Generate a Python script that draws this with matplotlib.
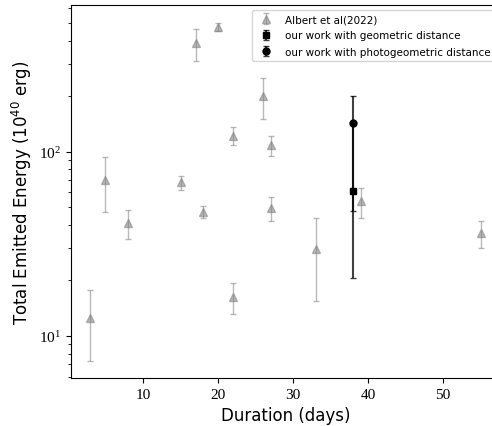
import matplotlib
matplotlib.use("Agg")
import matplotlib.pyplot as plt

plt.rcParams['font.family'] = 'serif'
plt.rcParams['font.serif'] = ['Liberation Serif', 'DejaVu Serif']
plt.rcParams['mathtext.fontset'] = 'stix'

# Albert et al (2022)
albert_dur = [3, 5, 8, 15, 17, 18, 20, 22, 22, 26, 27, 27, 33, 39, 55]
albert_E = [12.5, 70, 41, 68, 388, 47, 477, 122, 16.2, 201, 108, 49.4, 29.5, 53.6, 36]
albert_err = [5.2, 23, 7.4, 6, 77, 3.5, 24, 14, 3.1, 50, 13.5, 7.4, 14.1, 10, 6]

# our work
geo_dur = [38]
geo_E = [61]
geo_lo = [40.4]
geo_hi = [82]

photo_dur = [38]
photo_E = [143]
photo_lo = [95.7]
photo_hi = [57.6]

fig = plt.figure(figsize=(4.92, 4.27), dpi=100)
ax = fig.add_axes([0.1443, 0.1124, 0.872, 0.874])

ax.errorbar(albert_dur, albert_E, yerr=albert_err, fmt='^', color='grey', alpha=0.55,
            markersize=5.5, capsize=2, elinewidth=1, label='Albert et al(2022)')
ax.errorbar(geo_dur, geo_E, yerr=[geo_lo, geo_hi], fmt='s', color='black',
            ecolor=(0, 0, 0, 0.75), markersize=5, capsize=2, elinewidth=1.5,
            label='our work with geometric distance')
ax.errorbar(photo_dur, photo_E, yerr=[photo_lo, photo_hi], fmt='o', color='black',
            ecolor=(0, 0, 0, 0.75), markersize=5, capsize=2, elinewidth=1.5,
            label='our work with photogeometric distance')

ax.set_yscale('log')
ax.set_xlim(0.4, 57.6)
ax.set_ylim(5.9, 626)
ax.tick_params(labelsize=11)

ax.set_xlabel('Duration (days)', fontsize=12, family='DejaVu Sans')
ax.set_ylabel(r'Total Emitted Energy (10$^{40}$ erg)', fontsize=12,
              family='DejaVu Sans', math_fontfamily='dejavusans')

ax.legend(loc='upper right', prop={'family': 'DejaVu Sans', 'size': 7.5},
          labelspacing=0.6)

fig.savefig('out.png', dpi=100)
